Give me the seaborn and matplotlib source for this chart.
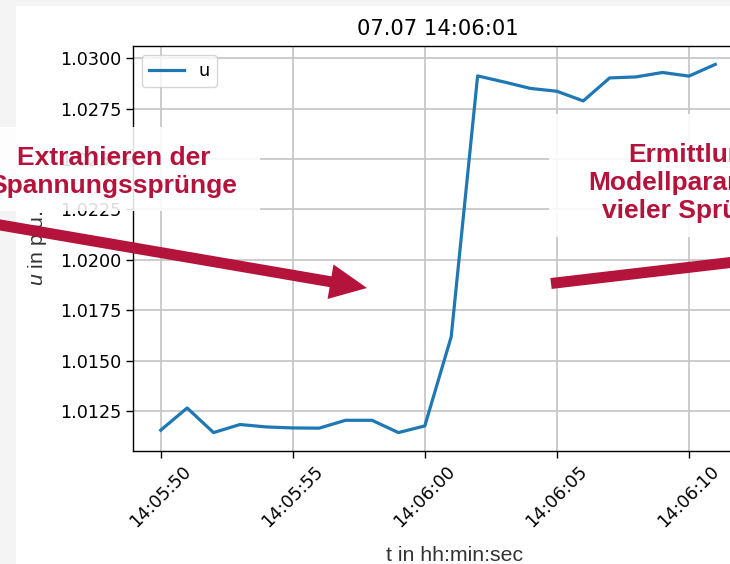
import numpy as np
import pandas as pd
import seaborn as sns
import matplotlib.pyplot as plt
import matplotlib.dates as mdates
from matplotlib.ticker import MultipleLocator, FormatStrFormatter
from matplotlib.patches import Rectangle, FancyArrow

plt.rcParams['mathtext.fontset'] = 'custom'
plt.rcParams['mathtext.it'] = 'Liberation Sans:italic'
plt.rcParams['mathtext.rm'] = 'Liberation Sans'

# measured voltage, one sample per second
times = ['14:05:50', '14:05:51', '14:05:52', '14:05:53', '14:05:54', '14:05:55',
         '14:05:56', '14:05:57', '14:05:58', '14:05:59', '14:06:00', '14:06:01',
         '14:06:02', '14:06:03', '14:06:04', '14:06:05', '14:06:06', '14:06:07',
         '14:06:08', '14:06:09', '14:06:10', '14:06:11']
u_values = [1.01156, 1.01266, 1.01144, 1.01184, 1.01172, 1.01167,
            1.01166, 1.01205, 1.01205, 1.01144, 1.01177, 1.01619,
            1.02912, 1.02882, 1.02850, 1.02836, 1.02788, 1.02902,
            1.02907, 1.02929, 1.02911, 1.02969]

title = '07.07 14:06:01'
note_left = 'Extrahieren der\nSpannungssprünge'
note_right = 'Ermittlung\nModellparameter\nvieler Sprünge'

df = pd.DataFrame({'t': pd.to_datetime(['2021-07-07 ' + s for s in times]),
                   'u': u_values})

W, H = 730, 564
red = '#b4133b'

fig = plt.figure(figsize=(W / 100, H / 100), dpi=100, facecolor='#f4f4f4')
# white slide area
fig.add_artist(Rectangle((16 / W, 0), 1, 1 - 6 / H, transform=fig.transFigure,
                         facecolor='white', edgecolor='none', zorder=-1))

ax = fig.add_axes([133 / W, 1 - 451 / H, 610 / W, 405 / H])
sns.lineplot(data=df, x='t', y='u', ax=ax, label='u', lw=2.3, color='#1f77b4')

ax.xaxis.set_major_locator(mdates.SecondLocator(bysecond=range(0, 60, 5)))
ax.xaxis.set_major_formatter(mdates.DateFormatter('%H:%M:%S'))
ax.yaxis.set_major_locator(MultipleLocator(0.0025))
ax.yaxis.set_major_formatter(FormatStrFormatter('%.4f'))

ax.grid(True, color='#c4c4c4', lw=1.2)
ax.tick_params(labelsize=12.7, length=5, width=1.0)
ax.tick_params(axis='x', labelrotation=45)
for s in ax.spines.values():
    s.set_linewidth(1.0)

ax.set_title(title, fontsize=15.2, pad=7.6)
ax.legend(loc='upper left', fontsize=12.7)

ax.set_xlabel('t in hh:min:sec', fontsize=15.3, family='Liberation Sans', color='#333333')
ax.xaxis.set_label_coords(0.527, -0.259)
ax.xaxis.label.set_va('center')
ax.set_ylabel('$u$ in p.u.', fontsize=15.3, family='Liberation Sans', color='#333333')
ax.yaxis.set_label_coords(-0.157, 0.5)
ax.yaxis.label.set_va('center')

# slide overlays: half-transparent boxes with notes
fig.add_artist(Rectangle((0, 1 - 211 / H), 260 / W, 84 / H, transform=fig.transFigure,
                         facecolor='white', edgecolor='none', alpha=0.87, zorder=5))
fig.add_artist(Rectangle((549 / W, 1 - 237 / H), 300 / W, 123 / H, transform=fig.transFigure,
                         facecolor='white', edgecolor='none', alpha=0.87, zorder=5))
fig.text(113.5 / W, 1 - 172 / H, note_left, ha='center', va='center', fontsize=19,
         fontweight='bold', family='Liberation Sans', color=red, zorder=6)
fig.text(694 / W, 1 - 183 / H, note_right, ha='center', va='center', fontsize=19,
         fontweight='bold', family='Liberation Sans', color=red, zorder=6)

# arrows, in inches from the lower left corner
fig.add_artist(FancyArrow(-0.05, (H - 224.1) / 100, 3.72, -0.639, width=0.11,
                          head_width=0.35, head_length=0.37, length_includes_head=True,
                          color=red, lw=0, transform=fig.dpi_scale_trans, zorder=7))
fig.add_artist(FancyArrow(5.51, (H - 283.5) / 100, 2.89, 0.338, width=0.11,
                          head_width=0.35, head_length=0.37, length_includes_head=True,
                          color=red, lw=0, transform=fig.dpi_scale_trans, zorder=7))

fig.savefig('out.png', dpi=100)
